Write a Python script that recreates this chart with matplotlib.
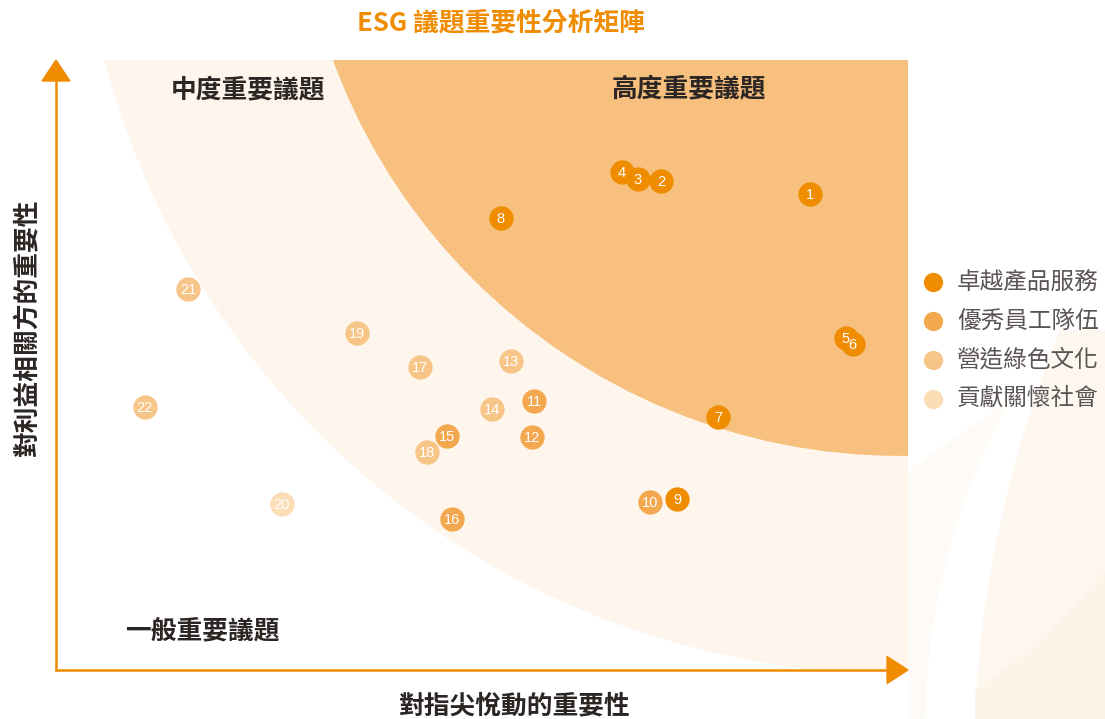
import matplotlib.pyplot as plt
from matplotlib.patches import Ellipse, Polygon
import numpy as np

plt.rcParams['font.family'] = ['Noto Sans CJK TC', 'DejaVu Sans']

# issue scores (0-100): x = importance to company, y = importance to stakeholders
issue_no = [1, 2, 3, 4, 5, 6, 7, 8, 9, 10, 11,
            12, 13, 14, 15, 16, 17, 18, 19, 20, 21, 22]
x_score = [88.5, 71.0, 68.3, 66.4, 92.7, 93.5, 77.7, 52.2, 72.9, 69.7, 56.1,
           55.9, 53.4, 51.2, 45.9, 46.5, 42.7, 43.5, 35.3, 26.5, 15.5, 10.4]
y_score = [78.0, 80.2, 80.5, 81.6, 54.4, 53.4, 41.5, 74.1, 28.0, 27.5, 44.1,
           38.2, 50.7, 42.8, 38.4, 24.8, 49.7, 35.7, 55.2, 27.2, 62.5, 43.1]
category = [0, 0, 0, 0, 0, 0, 0, 0, 0, 1, 1,
            1, 2, 2, 1, 1, 2, 2, 2, 3, 2, 2]

cat_names = ["卓越產品服務", "優秀員工隊伍", "營造綠色文化", "貢獻關懷社會"]
cat_colors = ["#F08C00", "#F3A74E", "#F8C588", "#FBDDB6"]

zone_labels = ["高度重要議題", "中度重要議題", "一般重要議題"]
title = "ESG 議題重要性分析矩陣"
xlabel = "對指尖悅動的重要性"
ylabel = "對利益相關方的重要性"

W, H = 1105, 719
fig = plt.figure(figsize=(W / 100, H / 100), dpi=100)


def fx(px):
    return px / W


def fy(py):
    return 1 - py / H


def curve(p0, p1, bulge, n=30):
    # quadratic bezier between two points, for the soft background shapes
    p0, p1 = np.array(p0, float), np.array(p1, float)
    mid = (p0 + p1) / 2 + np.array(bulge, float)
    t = np.linspace(0, 1, n)[:, None]
    return (1 - t) ** 2 * p0 + 2 * (1 - t) * t * mid + t ** 2 * p1


# faint decoration on the right
deco = fig.add_axes([0, 0, 1, 1], zorder=0)
deco.set_xlim(0, W)
deco.set_ylim(H, 0)
deco.axis("off")
c1 = curve((1060, 330), (975, 719), (-35, 0))
deco.add_patch(Polygon(np.vstack([c1, [[1105, 719], [1105, 330]]]),
                       closed=True, color="#FEF7F0", lw=0))
c2 = curve((975, 690), (1105, 570), (10, 10))
deco.add_patch(Polygon(np.vstack([c2, [[1105, 719], [975, 719]]]),
                       closed=True, color="#FDF3E8", lw=0))
c3 = curve((1010, 400), (925, 719), (-40, -10))
deco.add_patch(Polygon(np.vstack([[[909, 470]], c3, [[909, 719]]]),
                       closed=True, color="#FEFAF5", lw=0))

ax = fig.add_axes([fx(56), fy(670), (908 - 56) / W, 610 / H], zorder=1)
ax.set_xlim(0, 100)
ax.set_ylim(0, 100)
ax.axis("off")
ax.patch.set_alpha(0)

# zones (concentric arcs around the top-right corner)
cx, cy = 99.06, 134.1
ax.add_patch(Ellipse((cx, cy), 2 * 96.5, 2 * 134.75, color="#FEF6EC", lw=0, zorder=1))
ax.add_patch(Ellipse((cx, cy), 2 * 70.9, 2 * 99.0, color="#F7C07E", lw=0, zorder=2))

# axes arrows
axc = "#F08C00"
ax.plot([0, 0], [0, 0.97], transform=ax.transAxes, color=axc, lw=1.8, clip_on=False, zorder=3)
ax.plot([0, 0.98], [0, 0], transform=ax.transAxes, color=axc, lw=1.8, clip_on=False, zorder=3)
ax.add_patch(Polygon([[-0.0164, 0.9656], [0.0164, 0.9656], [0, 1.0]], closed=True,
                     transform=ax.transAxes, color=axc, clip_on=False, zorder=3))
ax.add_patch(Polygon([[0.9754, -0.0221], [0.9754, 0.0221], [1.0, 0]], closed=True,
                     transform=ax.transAxes, color=axc, clip_on=False, zorder=3))

# points
for i in range(len(issue_no)):
    ax.scatter(x_score[i], y_score[i], s=306, color=cat_colors[category[i]],
               lw=0, zorder=5 + i * 0.01, clip_on=False)
    ax.text(x_score[i], y_score[i] - 0.2, str(issue_no[i]), color="white", fontsize=10.5,
            family=["Liberation Sans"], ha="center", va="center", zorder=10)

# zone labels
fig.text(fx(689), fy(89), zone_labels[0], fontsize=18.5, fontweight="bold",
         color="#2B2624", ha="center", va="center")
fig.text(fx(248), fy(90), zone_labels[1], fontsize=18.5, fontweight="bold",
         color="#2B2624", ha="center", va="center")
fig.text(fx(202), fy(631), zone_labels[2], fontsize=18.5, fontweight="bold",
         color="#2B2624", ha="center", va="center")

# title and axis labels
fig.text(fx(501), fy(23), title, fontsize=18.5, fontweight="bold", color="#F08C00",
         ha="center", va="center")
fig.text(fx(515), fy(706), xlabel, fontsize=18.5, fontweight="bold", color="#2B2624",
         ha="center", va="center")
fig.text(fx(28), fy(327), ylabel, fontsize=18.5, fontweight="bold", color="#2B2624",
         ha="center", va="center", rotation=90)

# legend
for k, name in enumerate(cat_names):
    yy = 282 + k * 39
    deco.scatter(933, yy, s=193, color=cat_colors[k], lw=0, zorder=3)
    fig.text(fx(957), fy(yy), name, fontsize=17, color="#5A5453", ha="left", va="center")

fig.savefig("out.png", dpi=100)
